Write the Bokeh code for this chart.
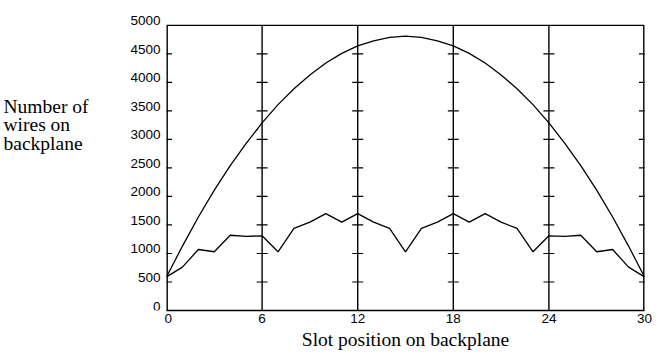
from bokeh.plotting import figure
from bokeh.models import Range1d, FixedTicker, Label
from bokeh.layouts import row
from bokeh.embed import file_html
from bokeh.resources import INLINE

# ---- data ----
slots = [0, 1, 2, 3, 4, 5, 6, 7, 8, 9, 10, 11, 12, 13, 14, 15,
         16, 17, 18, 19, 20, 21, 22, 23, 24, 25, 26, 27, 28, 29, 30]
upper_wires = [590, 1130, 1640, 2110, 2540, 2930, 3290, 3610, 3890, 4130, 4340,
               4510, 4640, 4730, 4790, 4810, 4790, 4730, 4640, 4510, 4340,
               4130, 3890, 3610, 3290, 2930, 2540, 2110, 1640, 1130, 590]
lower_wires = [590, 760, 1070, 1030, 1320, 1300, 1310, 1030, 1440, 1550, 1700,
               1550, 1700, 1550, 1440, 1030, 1440, 1550, 1700, 1550, 1700,
               1550, 1440, 1030, 1310, 1300, 1320, 1030, 1070, 760, 590]
x_ticks = [0, 6, 12, 18, 24, 30]
y_ticks = [0, 500, 1000, 1500, 2000, 2500, 3000, 3500, 4000, 4500, 5000]
divider_slots = [6, 12, 18, 24]
x_title = "Slot position on backplane"
y_title_lines = ["Number of", "wires on", "backplane"]

TICK_FONT = "Liberation Sans"
TITLE_FONT = "Liberation Serif"
INK = "black"

# ---- layout geometry (pixels) ----
TOTAL_W, TOTAL_H = 658, 352
SIDE_W = 164
BOX_LEFT, BOX_RIGHT = 166, 644      # drawn plot box
BOX_TOP, BOX_BOTTOM = 25, 312
FRAME_TOP = 8                        # frame reaches a bit above the box

y0, y1 = y_ticks[0], y_ticks[-1]
units_per_px = (y1 - y0) / (BOX_BOTTOM - BOX_TOP)
shared_y = Range1d(y0, y1 + (BOX_TOP - FRAME_TOP) * units_per_px)

# ---- main chart ----
p = figure(width=TOTAL_W - SIDE_W, height=TOTAL_H,
           x_range=Range1d(x_ticks[0], x_ticks[-1]),
           y_range=shared_y,
           y_axis_location=None,
           output_backend="svg", toolbar_location=None,
           min_border_left=BOX_LEFT - SIDE_W, min_border_right=TOTAL_W - BOX_RIGHT,
           min_border_top=FRAME_TOP, min_border_bottom=TOTAL_H - BOX_BOTTOM,
           background_fill_color="white", border_fill_color="white")
p.outline_line_color = None
p.grid.visible = False

# bottom axis
p.xaxis.ticker = FixedTicker(ticks=x_ticks)
p.xaxis.major_tick_in = 0
p.xaxis.major_tick_out = 0
p.xaxis.minor_tick_line_color = None
p.xaxis.axis_line_color = INK
p.xaxis.axis_line_width = 1.4
p.xaxis.major_label_text_font = TICK_FONT
p.xaxis.major_label_text_font_size = "13.5px"
p.xaxis.major_label_text_color = INK
p.xaxis.major_label_standoff = 3
p.xaxis.axis_label = x_title
p.xaxis.axis_label_text_font = TITLE_FONT
p.xaxis.axis_label_text_font_size = "19.5px"
p.xaxis.axis_label_text_font_style = "normal"
p.xaxis.axis_label_text_color = INK
p.xaxis.axis_label_standoff = 3

# box edges (half of their width falls outside the frame) and divider lines
edges = [x_ticks[0], x_ticks[-1]]
p.segment(x0=edges, y0=[y0] * 2, x1=edges, y1=[y1] * 2, line_color=INK, line_width=2.8)
p.segment(x0=[x_ticks[0]], y0=[y1], x1=[x_ticks[-1]], y1=[y1], line_color=INK, line_width=1.4)
p.segment(x0=divider_slots, y0=[y0] * len(divider_slots), x1=divider_slots,
          y1=[y1] * len(divider_slots), line_color=INK, line_width=1.4)

# tick marks: inward on the box edges, crosses on the dividers
cross_x = [sx for sx in x_ticks for yv in y_ticks[1:-1]]
cross_y = [yv for sx in x_ticks for yv in y_ticks[1:-1]]
p.scatter(cross_x, cross_y, marker="dash", size=11, line_color=INK, line_width=1.2)

# curves
p.line(slots, upper_wires, line_color=INK, line_width=1.3)
p.line(slots, lower_wires, line_color=INK, line_width=1.3)

# ---- left panel: y tick labels and horizontal y-title, same vertical scale ----
side = figure(width=SIDE_W, height=TOTAL_H,
              x_range=Range1d(0, SIDE_W), y_range=shared_y,
              x_axis_location=None, y_axis_location=None,
              output_backend="svg", toolbar_location=None,
              min_border=0, min_border_top=FRAME_TOP,
              min_border_bottom=TOTAL_H - BOX_BOTTOM,
              outline_line_color=None,
              background_fill_color="white", border_fill_color="white")
side.grid.visible = False

for yv in y_ticks:
    side.add_layout(Label(x=SIDE_W, y=yv, text=str(yv), x_offset=-4, y_offset=4.5,
                          text_align="right", text_baseline="alphabetic",
                          text_font=TICK_FONT, text_font_size="13.5px",
                          text_color=INK))

for i, line in enumerate(y_title_lines):
    side.add_layout(Label(x=0, y=y1, text=line, x_offset=3, y_offset=-81 - 18.5 * i,
                          text_align="left", text_baseline="alphabetic",
                          text_font=TITLE_FONT, text_font_size="19.5px",
                          text_color=INK))

layout = row(side, p)
open("out.html", "w").write(file_html(layout, INLINE))
